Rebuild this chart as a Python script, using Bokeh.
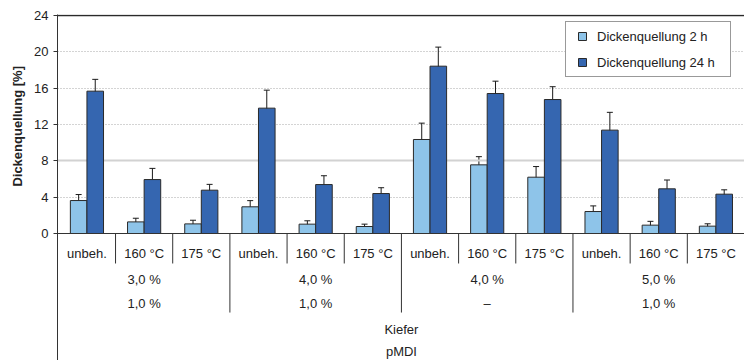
import math
from bokeh.plotting import figure
from bokeh.models import (Range1d, FixedTicker, ColumnDataSource, Whisker, TeeHead,
                          Legend, LegendItem)
from bokeh.layouts import row
from bokeh.embed import file_html
from bokeh.resources import INLINE
from bokeh.core.properties import value

# ---------------- data ----------------
treatments = ["unbeh.", "160 °C", "175 °C"] * 4
group_a = ["3,0 %", "4,0 %", "4,0 %", "5,0 %"]
group_b = ["1,0 %", "1,0 %", "–", "1,0 %"]
wood = "Kiefer"
binder = "pMDI"
swell_2h = [3.63, 1.28, 1.06, 2.94, 1.03, 0.77, 10.35, 7.56, 6.20, 2.42, 0.92, 0.81]
err_2h = [0.66, 0.40, 0.40, 0.68, 0.37, 0.26, 1.80, 0.90, 1.17, 0.62, 0.42, 0.26]
swell_24h = [15.67, 5.94, 4.77, 13.80, 5.39, 4.40, 18.42, 15.41, 14.75, 11.38, 4.92, 4.33]
err_24h = [1.30, 1.23, 0.64, 1.98, 0.97, 0.64, 2.10, 1.36, 1.41, 1.96, 0.97, 0.48]
series_names = ["Dickenquellung 2 h", "Dickenquellung 24 h"]
y_ticks = [0, 4, 8, 12, 16, 20, 24]
y_label = "Dickenquellung  [%]"

# ---------------- style / layout ----------------
FONT = "Liberation Sans"
LIGHT = "#8ec4e9"
DARK = "#3566b0"
EDGE = "#2a2a2a"
TXT = "#222222"
n = len(treatments)
per_group = 3
n_groups = len(group_a)
bar_w = 0.29
off = bar_w / 2
y_top = 24.11
y_bottom = -13.98          # space below the value axis for the category rows
row_y = [-2.2, -5.05, -7.7, -10.6, -12.95]
short_sep = -3.3
long_sep = -8.7
LABEL_W = 30

yr = Range1d(y_bottom, y_top)
xr = Range1d(-0.015, n)

# narrow strip holding the rotated value-axis title
lab = figure(width=LABEL_W, height=360, x_range=Range1d(0, LABEL_W), y_range=yr,
             output_backend="svg", toolbar_location=None,
             min_border_left=0, min_border_right=0, min_border_top=14, min_border_bottom=0,
             outline_line_color=None, background_fill_color="white")
lab.axis.visible = False
lab.grid.visible = False
lab.text(x=[17], y=[(0 + 24) / 2], text=[y_label], angle=math.pi / 2,
         text_align="center", text_baseline="middle", text_font=value(FONT),
         text_font_size="13px", text_font_style="bold", text_color=TXT)

p = figure(width=744 - LABEL_W, height=360, x_range=xr, y_range=yr,
           output_backend="svg", toolbar_location=None,
           min_border_left=57 - LABEL_W, min_border_right=0, min_border_top=14, min_border_bottom=0,
           outline_line_color=None, background_fill_color="white")
p.xaxis.visible = False
p.xgrid.visible = False
p.ygrid.ticker = FixedTicker(ticks=[4, 12, 16, 20])
p.ygrid.grid_line_color = "#a8a8a8"
p.ygrid.grid_line_dash = "1 2"
p.ygrid.grid_line_width = 1

yax = p.yaxis[0]
yax.ticker = FixedTicker(ticks=y_ticks)
yax.axis_line_color = "#333333"
yax.major_tick_line_color = "#333333"
yax.major_tick_out = 4
yax.major_tick_in = 0
yax.minor_tick_line_color = None
yax.major_label_text_font = FONT
yax.major_label_text_font_size = "13px"
yax.major_label_text_color = TXT
yax.major_label_standoff = 5

# highlighted grid line at 8
p.hspan(y=[8], line_color="#d2d2d2", line_width=2)

xs = [i + 0.5 for i in range(n)]
src = ColumnDataSource(dict(
    x1=[x - off for x in xs], x2=[x + off for x in xs],
    v1=swell_2h, v2=swell_24h,
    lo1=[v - e for v, e in zip(swell_2h, err_2h)], hi1=[v + e for v, e in zip(swell_2h, err_2h)],
    lo2=[v - e for v, e in zip(swell_24h, err_24h)], hi2=[v + e for v, e in zip(swell_24h, err_24h)],
))

p.vbar(x="x1", top="v1", bottom=0, width=bar_w, source=src,
       fill_color=LIGHT, line_color=EDGE, line_width=1)
p.vbar(x="x2", top="v2", bottom=0, width=bar_w, source=src,
       fill_color=DARK, line_color=EDGE, line_width=1)

for base, lo, hi in (("x1", "lo1", "hi1"), ("x2", "lo2", "hi2")):
    w = Whisker(base=base, lower=lo, upper=hi, source=src, line_color="#1a1a1a", line_width=1,
                upper_head=TeeHead(size=6, line_color="#1a1a1a", line_width=1),
                lower_head=TeeHead(size=6, line_color="#1a1a1a", line_width=1))
    p.add_layout(w)

# value-axis baseline and top frame line
p.hspan(y=[0], line_color="#333333", line_width=1)
p.segment(x0=[xr.start], x1=[n], y0=[24], y1=[24], line_color="#2a2a2a", line_width=1.3)

# legend markers (hidden renderers, used only for the legend glyphs)
lg1 = p.scatter(x=[src.data["x1"][0]], y=[swell_2h[0]], marker="square", size=8,
                fill_color=LIGHT, line_color=EDGE, visible=False)
lg2 = p.scatter(x=[src.data["x2"][0]], y=[swell_24h[0]], marker="square", size=8,
                fill_color=DARK, line_color=EDGE, visible=False)
legend = Legend(items=[LegendItem(label=series_names[0], renderers=[lg1]),
                       LegendItem(label=series_names[1], renderers=[lg2])],
                location=(508, 283), padding=4, spacing=6, margin=0,
                label_height=20, glyph_height=20, glyph_width=24, label_standoff=3,
                label_width=129,
                label_text_font=FONT, label_text_font_size="13px", label_text_color=TXT,
                border_line_color="#333333", border_line_width=1,
                background_fill_color="white", background_fill_alpha=1,
                inactive_fill_alpha=0)
p.add_layout(legend, "center")

# ---------------- category rows below the bars ----------------
inner = [i for i in range(1, n) if i % per_group != 0]
bounds = [g * per_group for g in range(1, n_groups)]
p.segment(x0=inner, x1=inner, y0=[0] * len(inner), y1=[short_sep] * len(inner),
          line_color="#333333", line_width=1)
p.segment(x0=bounds, x1=bounds, y0=[0] * len(bounds), y1=[long_sep] * len(bounds),
          line_color="#333333", line_width=1)

txt_kw = dict(text_align="center", text_baseline="middle", text_font=value(FONT),
              text_font_size="13px", text_color=TXT)
p.text(x=xs, y=[row_y[0]] * n, text=treatments, **txt_kw)
gx = [g * per_group + per_group / 2 for g in range(n_groups)]
p.text(x=gx, y=[row_y[1]] * n_groups, text=group_a, **txt_kw)
p.text(x=gx, y=[row_y[2]] * n_groups, text=group_b, **txt_kw)
p.text(x=[n / 2], y=[row_y[3]], text=[wood], **txt_kw)
p.text(x=[n / 2], y=[row_y[4]], text=[binder], **txt_kw)

layout = row(lab, p, spacing=0)
open("out.html", "w").write(file_html(layout, INLINE))
